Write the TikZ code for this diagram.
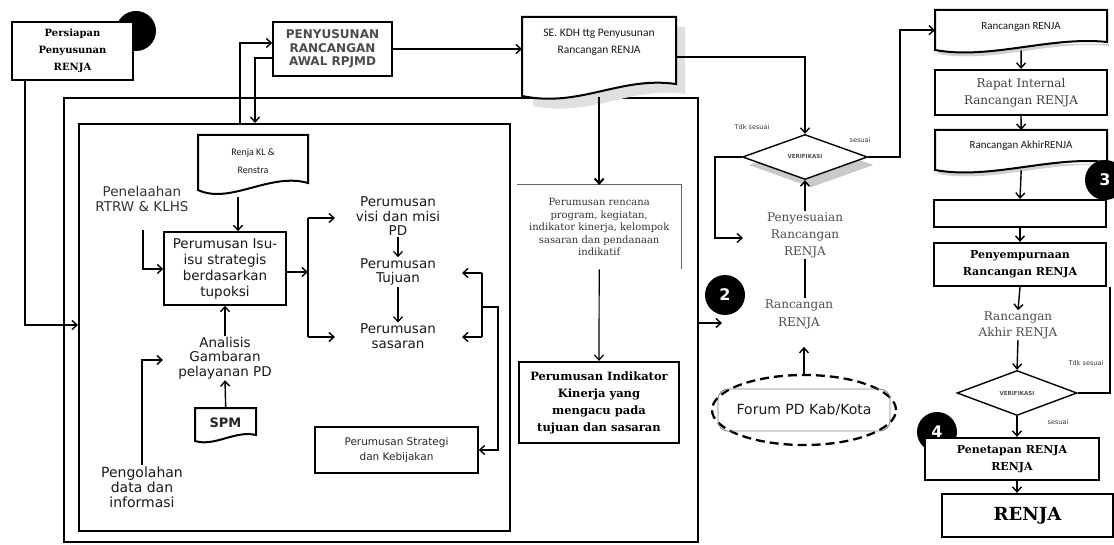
\documentclass[tikz,border=0pt]{standalone}
\usepackage{fontspec}
\setmainfont{DejaVu Serif}
\setsansfont{DejaVu Sans}
\newfontfamily\carl{Carlito}
\usetikzlibrary{arrows.meta,shapes.geometric,calc,shadows}
\begin{document}
\begin{tikzpicture}[x=1pt,y=-1pt,
  arr/.style={-{Straight Barb[length=5pt,width=9pt]}, line width=1.4pt},
  ln/.style={line width=1.4pt},
  thickbox/.style={draw, line width=2.3pt, fill=white, align=center, inner sep=0pt},
  thinbox/.style={draw, line width=1.4pt, fill=white, align=center, inner sep=0pt},
  docline/.style={line width=2pt, fill=white},
  docshadow/.style={fill=black!18},
  blob/.style={circle, fill=black, minimum size=40pt, inner sep=0pt, text=white, font=\sffamily\bfseries\fontsize{16}{16}\selectfont},
  txt/.style={align=center, inner sep=1pt, text=black!90},
  sanstxt/.style={txt, font=\sffamily\fontsize{13.5}{14.5}\selectfont},
  sertxt/.style={align=center, inner sep=1pt, text=black!70},
  boldser/.style={font=\bfseries\fontsize{11.5}{17}\selectfont},
  tiny/.style={inner sep=0pt, font=\sffamily\fontsize{6.5}{7}\selectfont, text=black!80},
  verif/.style={diamond, draw, line width=1.4pt, fill=white, aspect=2.8, inner sep=0pt, font=\sffamily\bfseries\fontsize{5.5}{6}\selectfont, text=black!70}
]
\useasboundingbox (0,0) rectangle (1114,545);

% ---------- outer and inner frames ----------
\node[draw, line width=1.8pt, minimum width=634, minimum height=444, anchor=north west, inner sep=0pt] (outer) at (63,97) {};
\node[draw, line width=2.3pt, minimum width=431, minimum height=407, anchor=north west, inner sep=0pt] (inner) at (78,123) {};

% ---------- Persiapan ----------
\node[blob] (c1) at (136,31) {};
\node[thickbox, minimum width=121, minimum height=58, font=\bfseries\fontsize{10}{17}\selectfont] (persiapan) at (72.5,51) {Persiapan\\Penyusunan\\RENJA};
\coordinate (pa) at (25,80);
\coordinate (pb) at (25,325);
\draw[arr] (pa) -- (pb) -- (pb -| inner.west);

% ---------- RPJMD ----------
\node[thinbox, minimum width=119, minimum height=54, font=\sffamily\bfseries\fontsize{12}{13.5}\selectfont, text=black!70] (rpjmd) at (332.5,49) {PENYUSUNAN\\RANCANGAN\\AWAL RPJMD};
\coordinate (r1) at (240,43);
\coordinate (r2) at (255,58);
\draw[arr] (r1 |- inner.north) -- (r1) -- (r1 -| rpjmd.west);
\draw[arr] (r2 -| rpjmd.west) -- (r2) -- (r2 |- inner.north);

% ---------- SE KDH document ----------
\node[minimum width=154, minimum height=80, anchor=north west, inner sep=0pt] (se) at (522,17) {};
\fill[black!12] (533,27) -- (685,27) -- (685,94) .. controls (630,86) and (590,118) .. (533,106) -- cycle;
\draw[docline] (522,96) -- (522,17) -- (676,17) -- (676,84) .. controls (620,76) and (580,108) .. (522,96) -- cycle;
\node[txt, font=\carl\fontsize{11.5}{17}\selectfont] (setxt) at (599,42) {SE. KDH ttg Penyusunan\\Rancangan RENJA};
\draw[arr] (rpjmd.east) -- (rpjmd.east -| se.west);

% ---------- Perumusan rencana ----------
\node[minimum width=164, minimum height=84, anchor=north west, inner sep=0pt, align=center, font=\fontsize{10}{12.5}\selectfont, text=black!80] (rencana) at (517,185) {Perumusan rencana\\program, kegiatan,\\indikator kinerja, kelompok\\sasaran dan pendanaan\\indikatif};
\draw[black!60, line width=1pt] (rencana.north west) -- (rencana.north east) -- (rencana.south east);
\draw[arr, line width=2pt] (se.south) -- (rencana.north);

\node[thickbox, boldser, minimum width=160, minimum height=81] (indik) at (599,402.5) {Perumusan Indikator\\Kinerja yang\\mengacu pada\\tujuan dan sasaran};
\draw[arr, line width=1.2pt] (rencana.south) -- (indik.north);

% ---------- inside inner box ----------
\node[minimum width=110, minimum height=60, anchor=north west, inner sep=0pt] (renja) at (198,135) {};
\draw[docline] (198,190) -- (198,135) -- (308,135) -- (308,183) .. controls (270,172) and (230,205) .. (198,190) -- cycle;
\node[txt, font=\carl\fontsize{10}{18}\selectfont] (renjatxt) at (253,161) {Renja KL \&\\Renstra};

\node[thinbox, minimum width=122, minimum height=73, font=\sffamily\fontsize{13.5}{16}\selectfont, text=black!90] (isu) at (225,268.5) {Perumusan Isu-\\isu strategis\\berdasarkan\\tupoksi};
\coordinate (k1) at (238,197);
\draw[arr] (k1) -- (k1 |- isu.north);

\node[sanstxt, text=black!80] (penel) at (142,199) {Penelaahan\\RTRW \& KLHS};
\coordinate (q1) at (143,230);
\coordinate (q2) at (143,269);
\draw[arr] (q1) -- (q2) -- (q2 -| isu.west);

\node[sanstxt] (visi) at (398,216.5) {Perumusan\\visi dan misi\\PD};
\node[sanstxt] (tujuan) at (398,272) {Perumusan\\Tujuan};
\node[sanstxt] (sasaran) at (398,336) {Perumusan\\sasaran};
\draw[arr, line width=1.2pt] (visi.south) -- (tujuan.north);
\draw[arr, line width=1.2pt] (tujuan.south) -- (sasaran.north);

\coordinate (b0) at (308,272);
\coordinate (b1) at (308,218);
\coordinate (b2) at (308,337);
\draw[arr] (isu.east |- b0) -- (b0);
\draw[ln] (b1) -- (b2);
\draw[arr] (b1) -- ++(27,0);
\draw[arr] (b2) -- ++(27,0);

\node[thinbox, minimum width=163, minimum height=46, font=\sffamily\fontsize{10.5}{15}\selectfont, text=black!85] (strat) at (396.5,450) {Perumusan Strategi\\dan Kebijakan};
\coordinate (c0) at (482,307);
\coordinate (cc1) at (482,273);
\coordinate (cc2) at (482,337);
\coordinate (c3) at (498,307);
\draw[ln] (cc1) -- (cc2);
\draw[arr] (cc1) -- ++(-20,0);
\draw[arr] (cc2) -- ++(-20,0);
\draw[arr] (c0) -- (c3) -- (c3 |- strat.east) -- (strat.east);

\node[sanstxt] (anal) at (225,358) {Analisis\\Gambaran\\pelayanan PD};
\draw[arr] (anal.north) -- (isu.south);

\node[minimum width=61, minimum height=34, anchor=north west, inner sep=0pt] (spm) at (195,408) {};
\draw[docline] (195,441) -- (195,408) -- (256,408) -- (256,435) .. controls (235,430) and (215,447) .. (195,441) -- cycle;
\node[font=\sffamily\bfseries\fontsize{13}{13}\selectfont, text=black!85, inner sep=0pt] (spmtxt) at (225.5,423) {SPM};
\draw[arr] (spm.north) -- (anal.south);

\node[sanstxt, font=\sffamily\fontsize{14}{15}\selectfont] (peng) at (142,487) {Pengolahan\\data dan\\informasi};
\coordinate (g2) at (143,360);
\draw[arr] (peng.north) -- (peng.north |- g2) -- ++(21,0);

% ---------- middle column ----------
\coordinate (m1) at (722,323);
\draw[arr] (m1 -| outer.east) -- (m1);
\node[blob] (c2) at (725,295) {2};

\node[sertxt, font=\fontsize{12}{18}\selectfont] (rr) at (799,314) {Rancangan\\RENJA};
\node[sertxt, font=\fontsize{12}{17}\selectfont] (peny) at (805,235) {Penyesuaian\\Rancangan\\RENJA};
\coordinate (v0) at (805,0);
\draw[line width=1.2pt] (v0 |- rr.north) -- (v0 |- peny.south);

\node[verif, minimum width=125, minimum height=45, drop shadow={shadow xshift=6pt, shadow yshift=-8pt, opacity=0.3, fill=black!70}] (verif1) at (805,157) {VERIFIKASI};
\draw[arr] (peny.north) -- (verif1.south);
\coordinate (s1) at (805,57);
\draw[arr] (s1 -| se.east) -- (s1) -- (verif1.north);
\coordinate (l1) at (715,157);
\coordinate (l2) at (715,238);
\draw[arr] (verif1.west) -- (l1) -- (l2) -- ++(28,0);
\node[tiny] (tdk1) at (752,127) {Tdk sesuai};
\node[tiny] (ses1) at (860,140) {sesuai};

\node[ellipse, draw, line width=2.3pt, dash pattern=on 9pt off 5pt, minimum width=184, minimum height=70, inner sep=0pt] (forum) at (804,410) {};
\node[draw=black!50, line width=0.8pt, rounded corners=10pt, minimum width=172, minimum height=42, font=\sffamily\fontsize{14}{14}\selectfont, text=black!90] (forumtxt) at (804,410) {Forum PD Kab/Kota};
\draw[arr] (forum.north) -- ++(0,-27);

% ---------- right column ----------
\node[minimum width=172, minimum height=40, anchor=north west, inner sep=0pt] (rr1) at (935,10) {};
\fill[docshadow] (938,44) -- (1109,44) -- (1109,46) .. controls (1050,40) and (990,64) .. (938,54) -- cycle;
\draw[docline] (935,50) -- (935,10) -- (1107,10) -- (1107,42) .. controls (1050,36) and (990,60) .. (935,50) -- cycle;
\node[txt, font=\carl\fontsize{11}{11}\selectfont] (rr1txt) at (1021,27) {Rancangan RENJA};
\coordinate (l3) at (900,157);
\draw[arr] (verif1.east) -- (l3) -- (l3 |- rr1.west) -- (rr1.west);

\node[thickbox, minimum width=172, minimum height=45, font=\fontsize{12}{17}\selectfont, text=black!75] (rapat) at (1021,92.5) {Rapat Internal\\Rancangan RENJA};
\draw[arr] (rr1.south) -- (rapat.north);

\node[minimum width=172, minimum height=40, anchor=north west, inner sep=0pt] (akhir) at (935,130) {};
\fill[docshadow] (938,164) -- (1109,164) -- (1109,166) .. controls (1050,160) and (990,184) .. (938,174) -- cycle;
\draw[docline] (935,170) -- (935,130) -- (1107,130) -- (1107,162) .. controls (1050,156) and (990,180) .. (935,170) -- cycle;
\node[txt, font=\carl\fontsize{11}{11}\selectfont] (akhirtxt) at (1021,146) {Rancangan AkhirRENJA};
\draw[arr] (rapat.south) -- (akhir.north);
\node[blob] (c3b) at (1105,180) {3};

\node[thickbox, minimum width=172, minimum height=27] (empty) at (1020,213.5) {};
\draw[arr] (akhir.south) -- (empty.north);

\node[thickbox, font=\bfseries\fontsize{11}{17}\selectfont, minimum width=172, minimum height=43] (peny2) at (1020,264.5) {Penyempurnaan\\Rancangan RENJA};
\draw[arr] (empty.south) -- (peny2.north);

\node[sertxt, font=\fontsize{12}{16}\selectfont] (rakhir) at (1018,325) {Rancangan\\Akhir RENJA};
\draw[arr] (peny2.south) -- (rakhir.north);

\node[verif, minimum width=120, minimum height=45] (verif2) at (1017,393) {VERIFIKASI};
\draw[arr] (rakhir.south) -- (verif2.north);
\coordinate (t1) at (1110,393);
\draw[ln] (verif2.east) -- (t1) -- (t1 |- peny2.south);
\node[tiny] (tdk2) at (1086,363) {Tdk sesuai};
\node[tiny] (ses2) at (1058,422) {sesuai};

\node[blob] (c4) at (937,432) {4};
\node[thickbox, font=\bfseries\fontsize{11}{17}\selectfont, minimum width=174, minimum height=42] (penet) at (1012,459) {Penetapan RENJA\\RENJA};
\draw[arr] (verif2.south) -- (verif2.south |- penet.north);

\node[thickbox, font=\bfseries\fontsize{18}{18}\selectfont, minimum width=171, minimum height=43] (renjabox) at (1027.5,515.5) {RENJA};
\coordinate (z) at (1017,0);
\draw[arr] (z |- penet.south) -- (z |- renjabox.north);
\end{tikzpicture}
\end{document}
